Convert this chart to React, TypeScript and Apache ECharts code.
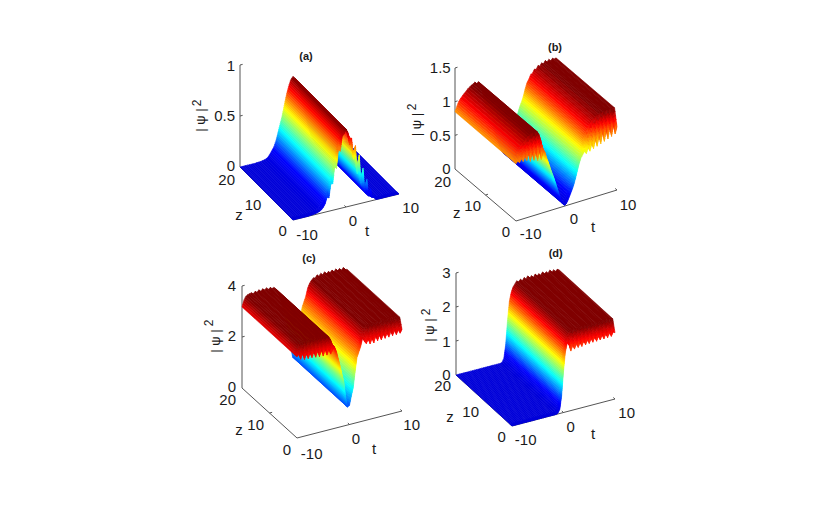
import React, { useEffect, useRef } from "react";
import * as echarts from "echarts";

const tGrid = [-10,-9.64,-9.29,-8.93,-8.57,-8.21,-7.86,-7.5,-7.14,-6.79,-6.43,-6.07,-5.71,-5.36,-5,-4.64,-4.29,-3.93,-3.57,-3.21,-2.86,-2.5,-2.14,-1.79,-1.43,-1.07,-0.71,-0.36,0,0.36,0.71,1.07,1.43,1.79,2.14,2.5,2.86,3.21,3.57,3.93,4.29,4.64,5,5.36,5.71,6.07,6.43,6.79,7.14,7.5,7.86,8.21,8.57,8.93,9.29,9.64,10];

// |psi|^2 along t for z > ~1 (ridge) and along the z = 0 edge (front)
const ridgeA = [0,0,0,0,0,0,0,0,0,0.002,0.003,0.005,0.008,0.012,0.02,0.035,0.06,0.09,0.12,0.17,0.24,0.31,0.38,0.46,0.55,0.63,0.69,0.74,0.76,0.74,0.7,0.64,0.56,0.48,0.4,0.32,0.24,0.17,0.12,0.08,0.05,0.03,0.02,0.01,0,0,0,0,0,0,0,0,0,0,0,0,0];
const frontA = [0,0,0,0,0,0,0,0,0,0.002,0.003,0.005,0.008,0.012,0.02,0.03,0.05,0.08,0.14,0.13,0.26,0.26,0.42,0.4,0.58,0.56,0.7,0.72,0.76,0.72,0.6,0.66,0.45,0.58,0.3,0.48,0.2,0.34,0.12,0.22,0.06,0.12,0.03,0.05,0,0,0,0,0,0,0,0,0,0,0,0,0];
const ridgeB = [0.85,0.92,0.98,1.02,1.05,1.08,1.1,1.13,1.15,1.17,1.18,1.2,1.17,1.19,1.14,1.05,0.9,0.8,0.72,0.63,0.55,0.47,0.38,0.29,0.2,0.12,0.05,0.01,0.03,0.08,0.14,0.2,0.27,0.36,0.46,0.56,0.64,0.7,0.78,0.88,0.96,1,1.06,1.07,1.12,1.11,1.16,1.14,1.18,1.16,1.2,1.17,1.2,1.17,1.2,1.18,1.19];
const frontB = [0.85,0.88,0.85,0.9,0.85,0.92,0.85,0.94,0.82,0.94,0.82,0.94,0.8,0.94,0.8,0.9,0.9,0.8,0.72,0.63,0.55,0.47,0.38,0.29,0.2,0.12,0.05,0.01,0.03,0.08,0.14,0.2,0.27,0.36,0.46,0.56,0.64,0.68,0.72,0.68,0.76,0.7,0.8,0.72,0.85,0.74,0.88,0.76,0.92,0.78,0.94,0.8,0.96,0.82,0.98,0.84,0.94];
const ridgeC = [3.18,3.42,3.55,3.6,3.62,3.64,3.58,3.66,3.6,3.68,3.6,3.68,3.62,3.68,3.6,3.66,3.6,3.62,3.55,3.42,3.2,3,2.7,2.4,2.05,1.75,1.1,0.7,0.75,1.1,1.4,2,2.55,2.75,2.95,3.25,3.42,3.52,3.6,3.58,3.68,3.6,3.7,3.62,3.72,3.62,3.7,3.64,3.72,3.62,3.72,3.64,3.7,3.62,3.7,3.6,3.6];
const frontC = [3.18,3.25,3.05,3.25,3,3.2,3,3.2,3,3.2,2.98,3.2,2.96,3.2,2.95,3.2,2.95,3.15,2.95,3.1,3.2,3,2.7,2.4,2.05,1.75,1.1,0.7,0.75,1.1,1.4,2,2.55,2.75,2.95,3.25,3.1,3,3.15,2.95,3.15,2.95,3.2,3,3.2,3,3.2,3.02,3.2,3.03,3.22,3.05,3.22,3.05,3.22,3.07,3.2];
const ridgeD = [0,0,0,0,0,0,0,0,0,0,0,0,0,0,0,0,0,0,0,0,0,0,0,0,0,0.02,0.12,0.5,1.2,1.75,2,2.15,2.22,2.3,2.26,2.32,2.26,2.34,2.28,2.36,2.28,2.34,2.27,2.36,2.28,2.34,2.28,2.36,2.28,2.34,2.28,2.36,2.28,2.34,2.28,2.33,2.3];
const frontD = [0,0,0,0,0,0,0,0,0,0,0,0,0,0,0,0,0,0,0,0,0,0,0,0,0,0.02,0.12,0.5,1.2,1.75,2,1.95,1.75,1.9,1.78,1.92,1.8,1.93,1.8,1.94,1.82,1.95,1.83,1.96,1.84,1.97,1.84,1.97,1.85,1.98,1.85,1.98,1.86,1.98,1.87,1.98,1.95];

const hTicksA = ["0", "0.5", "1"];
const hTicksB = ["0", "0.5", "1", "1.5"];
const hTicksC = ["0", "2", "4"];
const hTicksD = ["0", "1", "2", "3"];
const zTicks = ["0", "10", "20"];
const tTicks = ["-10", "0", "10"];
const titles = ["(a)", "(b)", "(c)", "(d)"];

const panels = [
  {
    ridge: ridgeA, front: frontA, hTop: 1, hMid: [0.5], hTicks: hTicksA, colorMax: 0.76,
    o: [293, 220], tv: [106, -26], zv: [-53, -53], hPx: 102,
    title: [306, 56], yl: [200, 120], sup: [196.7, 103],
    hPos: [[235, 165], [235, 115], [235, 65]],
    zPos: [[282.7, 230.7], [253, 204], [226.7, 179.3]], zLab: [239, 214],
    tPos: [[307, 234], [353, 220.7], [410.7, 207.7]], tLab: [367, 230.7],
  },
  {
    ridge: ridgeB, front: frontB, hTop: 1.5, hMid: [0.5, 1], hTicks: hTicksB, colorMax: 1.17,
    o: [516, 221], tv: [101, -31], zv: [-61, -52], hPx: 101,
    title: [555, 47.3], yl: [416.7, 124.5], sup: [411.7, 107],
    hPos: [[450.7, 168], [450.7, 135], [450.7, 101.7], [450.7, 67]],
    zPos: [[506, 231.7], [472.7, 205.7], [442.7, 181]], zLab: [456.7, 212.7],
    tPos: [[530.7, 233], [574, 218], [628, 204]], tLab: [593, 226.7],
  },
  {
    ridge: ridgeC, front: frontC, hTop: 4, hMid: [2], hTicks: hTicksC, colorMax: 3.55,
    o: [297, 438], tv: [105, -27], zv: [-55, -50], hPx: 102,
    title: [309, 257.7], yl: [215, 341], sup: [209, 323],
    hPos: [[236, 386], [236, 335.7], [236, 285]],
    zPos: [[287, 449], [255.7, 424], [227.7, 399]], zLab: [239, 429],
    tPos: [[311.7, 453], [356, 438], [411.7, 424]], tLab: [374, 448],
  },
  {
    ridge: ridgeD, front: frontD, hTop: 3, hMid: [1, 2], hTicks: hTicksD, colorMax: 2.25,
    o: [512, 426], tv: [103, -27], zv: [-56, -51], hPx: 102,
    title: [555.7, 252.7], yl: [429, 330], sup: [425.5, 312],
    hPos: [[450.7, 374], [450.7, 341], [450.7, 306.7], [450.7, 272]],
    zPos: [[501.7, 436.7], [470.7, 411], [442.7, 385.7]], zLab: [450, 416.7],
    tPos: [[525.7, 439], [570.7, 426], [626.7, 412.7]], tLab: [593, 433],
  },
];

const FRONT_DEPTH = 0.8;
const FRONT_STEPS = 5;

const clamp01 = (v: number) => Math.max(0, Math.min(1, v));
function jet(v0: number) {
  const v = clamp01(v0);
  const r = clamp01(Math.min(4 * v - 1.5, -4 * v + 4.5));
  const g = clamp01(Math.min(4 * v - 0.5, -4 * v + 3.5));
  let b = clamp01(Math.min(4 * v + 0.5, -4 * v + 2.5));
  if (v < 0.125) b = 0.85 + 0.15 * (v / 0.125);
  return `rgb(${Math.round(r * 255)},${Math.round(g * 255)},${Math.round(b * 255)})`;
}

function projector(p: any) {
  return (t: number, z: number, h: number) => [
    p.o[0] + ((t + 10) / 20) * p.tv[0] + (z / 20) * p.zv[0],
    p.o[1] + ((t + 10) / 20) * p.tv[1] + (z / 20) * p.zv[1] - (h / p.hTop) * p.hPx,
  ];
}

function surfaceSeries(p: any) {
  const proj = projector(p);
  const hMax = p.colorMax;
  const data: number[][] = [];
  for (let i = tGrid.length - 2; i >= 0; i--) {
    data.push([tGrid[i], p.ridge[i], p.front[i], tGrid[i + 1], p.ridge[i + 1], p.front[i + 1]]);
  }
  return {
    type: "custom",
    coordinateSystem: "cartesian2d",
    clip: false,
    silent: true,
    encode: { x: 0, y: 1 },
    data,
    renderItem: (_: any, api: any) => {
      const t0 = api.value(0), r0 = api.value(1), f0 = api.value(2);
      const t1 = api.value(3), r1 = api.value(4), f1 = api.value(5);
      const children: any[] = [];
      const strip = (zFar: number, zNear: number, hf0: number, hf1: number, hn0: number, hn1: number) => {
        const n = Math.max(1, Math.ceil((Math.abs(hn1 - hn0) / hMax) * 36));
        for (let k = n - 1; k >= 0; k--) {
          const a = k / n, b = (k + 1) / n;
          const ta = t0 + (t1 - t0) * a, tb = t0 + (t1 - t0) * b;
          const pts = [
            proj(ta, zNear, hn0 + (hn1 - hn0) * a),
            proj(tb, zNear, hn0 + (hn1 - hn0) * b),
            proj(tb, zFar, hf0 + (hf1 - hf0) * b),
            proj(ta, zFar, hf0 + (hf1 - hf0) * a),
          ].map((q) => api.coord(q));
          const m = (hn0 + hn1 + hf0 + hf1) / 4 + (hn1 - hn0) * (a + b - 1) / 2;
          const c = jet(m / hMax);
          children.push({ type: "polygon", shape: { points: pts }, style: { fill: c, stroke: c, lineWidth: 0.6 } });
        }
      };
      strip(20, FRONT_DEPTH, r0, r1, r0, r1);
      for (let s = 0; s < FRONT_STEPS; s++) {
        const u = s / FRONT_STEPS, w = (s + 1) / FRONT_STEPS;
        strip(
          FRONT_DEPTH * (1 - u), FRONT_DEPTH * (1 - w),
          r0 + (f0 - r0) * u, r1 + (f1 - r1) * u,
          r0 + (f0 - r0) * w, r1 + (f1 - r1) * w,
        );
      }
      return { type: "group", children };
    },
  };
}

function axisSeries(p: any) {
  const proj = projector(p);
  const segs: number[][] = [
    [-10, 20, 0, -10, 20, p.hTop],
    [-10, 0, 0, -10, 20, 0],
    [-10, 0, 0, 10, 0, 0],
    [-10, 10, 0, -9.5, 10, 0],
    [0, 0, 0, 0, 0.6, 0],
    [-10, 20, p.hTop, -9.5, 20, p.hTop],
    [10, 0, 0, 10, 0.6, 0],
  ];
  p.hMid.forEach((h: number) => segs.push([-10, 20, h, -9.5, 20, h]));
  return {
    type: "custom",
    coordinateSystem: "cartesian2d",
    clip: false,
    silent: true,
    encode: { x: 0, y: 1 },
    data: segs,
    renderItem: (_: any, api: any) => {
      const a = api.coord(proj(api.value(0), api.value(1), api.value(2)));
      const b = api.coord(proj(api.value(3), api.value(4), api.value(5)));
      return {
        type: "line",
        shape: { x1: a[0], y1: a[1], x2: b[0], y2: b[1] },
        style: { stroke: "#555555", lineWidth: 1 },
      };
    },
  };
}

const FONT = "'Liberation Sans', Arial, sans-serif";
function txt(text: string, pos: number[], size: number, extra: any = {}, weight = "normal") {
  return {
    type: "text",
    x: pos[0],
    y: pos[1],
    silent: true,
    ...extra,
    style: { text, fontSize: size, fontFamily: FONT, fontWeight: weight, fill: "#1a1a1a", align: "center", verticalAlign: "middle" },
  };
}

function panelTexts(p: any, i: number) {
  const out: any[] = [];
  out.push(txt(titles[i], p.title, 11, {}, "bold"));
  p.hTicks.forEach((s: string, k: number) => {
    const e = txt(s, p.hPos[k], 15);
    (e.style as any).align = "right";
    out.push(e);
  });
  zTicks.forEach((s, k) => out.push(txt(s, p.zPos[k], 15)));
  tTicks.forEach((s, k) => out.push(txt(s, p.tPos[k], 15)));
  out.push(txt("z", p.zLab, 15));
  out.push(txt("t", p.tLab, 15));
  out.push(txt("| ψ |", p.yl, 13, { rotation: Math.PI / 2 }));
  out.push(txt("2", p.sup, 12, { rotation: Math.PI / 2 }));
  return out;
}

export default function App() {
  const ref = useRef<HTMLDivElement>(null);
  useEffect(() => {
    document.body.style.margin = "0";
    const chart = echarts.init(ref.current!, null, { renderer: "svg" });
    chart.setOption({
      animation: false,
      backgroundColor: "#ffffff",
      grid: { left: 0, right: 0, top: 0, bottom: 0 },
      xAxis: { type: "value", min: 0, max: 830, show: false },
      yAxis: { type: "value", min: 0, max: 529, inverse: true, show: false },
      series: panels.flatMap((p) => [axisSeries(p), surfaceSeries(p)]),
      graphic: { elements: panels.flatMap((p, i) => panelTexts(p, i)) },
    });
    return () => chart.dispose();
  }, []);
  return <div ref={ref} style={{ width: 830, height: 529 }} />;
}
